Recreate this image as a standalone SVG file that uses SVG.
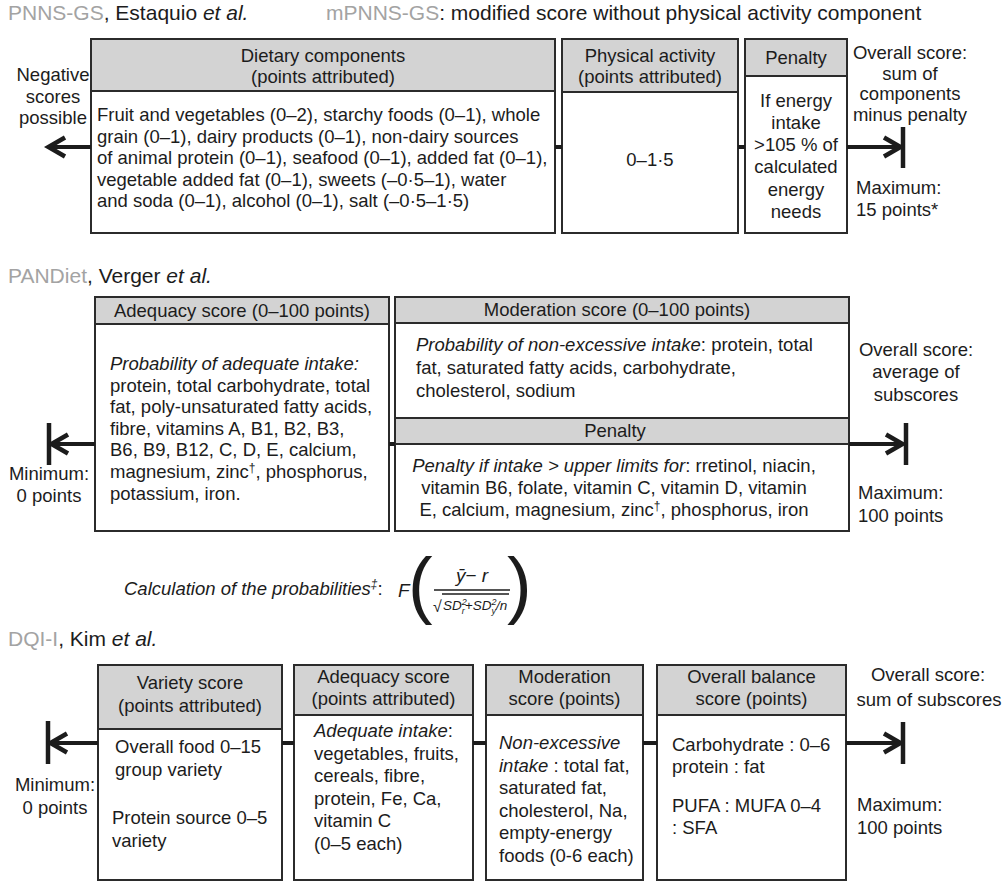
<svg xmlns="http://www.w3.org/2000/svg" width="1005" height="886" viewBox="0 0 1005 886">
<style>
.bg{fill:#ffffff}
.box{fill:#ffffff;stroke:#2b2b2b;stroke-width:2}
.hdr{fill:#d3d3d3;stroke:#2b2b2b;stroke-width:2}
.t{font-family:"Liberation Sans",Arial,Helvetica,sans-serif;font-size:18.5px;fill:#1c1c1c}
.ttl{font-size:21px}
.c{text-anchor:middle}
.i{font-style:italic}
.g{fill:#a3a3a3}
.sup{font-size:12px}
.conn{stroke:#1c1c1c;stroke-width:4;fill:none}
.head{stroke:#1c1c1c;stroke-width:4.5;fill:none;stroke-linejoin:miter;stroke-linecap:butt}
.bar{stroke:#1c1c1c;stroke-width:4.5;fill:none}
.thin{stroke:#1c1c1c;stroke-width:1.3;fill:none}
</style>
<rect class="bg" x="0" y="0" width="1005" height="886"/>

<!-- ===== Section 1: PNNS-GS ===== -->
<g id="title-pnns">
<text class="t ttl" x="8" y="20"><tspan class="g">PNNS-GS</tspan>, Estaquio <tspan class="i">et al.</tspan></text>
<text class="t ttl" x="326" y="20"><tspan class="g">mPNNS-GS</tspan>: modified score without physical activity component</text>
</g>

<g id="pnns-negative">
<text class="t c" x="53" y="81">Negative</text>
<text class="t c" x="53" y="102.5">scores</text>
<text class="t c" x="53" y="124">possible</text>
</g>

<g id="pnns-dietary">
<rect class="box" x="91" y="39" width="464" height="194"/>
<rect class="hdr" x="91" y="39" width="464" height="52"/>
<text class="t c" x="323" y="62">Dietary components</text>
<text class="t c" x="323" y="83">(points attributed)</text>
<text class="t" x="97" y="121">Fruit and vegetables (0–2), starchy foods (0–1), whole</text>
<text class="t" x="97" y="142.5">grain (0–1), dairy products (0–1), non-dairy sources</text>
<text class="t" x="97" y="164">of animal protein (0–1), seafood (0–1), added fat (0–1),</text>
<text class="t" x="97" y="185.5">vegetable added fat (0–1), sweets (–0·5–1), water</text>
<text class="t" x="97" y="207">and soda (0–1), alcohol (0–1), salt (–0·5–1·5)</text>
</g>

<g id="pnns-physical">
<rect class="box" x="562" y="39" width="176" height="194"/>
<rect class="hdr" x="562" y="39" width="176" height="53"/>
<text class="t c" x="650" y="62">Physical activity</text>
<text class="t c" x="650" y="83">(points attributed)</text>
<text class="t c" x="650" y="166">0–1·5</text>
</g>

<g id="pnns-penalty">
<rect class="box" x="745" y="39" width="102" height="194"/>
<rect class="hdr" x="745" y="39" width="102" height="37"/>
<text class="t c" x="796" y="64">Penalty</text>
<text class="t c" x="796" y="107">If energy</text>
<text class="t c" x="796" y="129">intake</text>
<text class="t c" x="796" y="151">&gt;105 % of</text>
<text class="t c" x="796" y="173">calculated</text>
<text class="t c" x="796" y="196">energy</text>
<text class="t c" x="796" y="218">needs</text>
</g>

<g id="pnns-overall">
<text class="t c" x="910" y="59">Overall score:</text>
<text class="t c" x="910" y="79.5">sum of</text>
<text class="t c" x="910" y="100">components</text>
<text class="t c" x="910" y="120.5">minus penalty</text>
<text class="t" x="856" y="194">Maximum:</text>
<text class="t" x="856" y="216">15 points*</text>
</g>

<!-- ===== Section 2: PANDiet ===== -->
<g id="title-pandiet">
<text class="t ttl" x="8" y="283"><tspan class="g">PANDiet</tspan>, Verger <tspan class="i">et al.</tspan></text>
</g>

<g id="pandiet-minimum">
<text class="t c" x="49" y="480">Minimum:</text>
<text class="t c" x="49" y="502">0 points</text>
</g>

<g id="pandiet-adequacy">
<rect class="box" x="95" y="297" width="294" height="234"/>
<rect class="hdr" x="95" y="297" width="294" height="27"/>
<text class="t c" x="242" y="317">Adequacy score (0–100 points)</text>
<text class="t i" x="110" y="370">Probability of adequate intake:</text>
<text class="t" x="110" y="391.6">protein, total carbohydrate, total</text>
<text class="t" x="110" y="413.2">fat, poly-unsaturated fatty acids,</text>
<text class="t" x="110" y="434.8">fibre, vitamins A, B1, B2, B3,</text>
<text class="t" x="110" y="456.4">B6, B9, B12, C, D, E, calcium,</text>
<text class="t" x="110" y="478">magnesium, zinc<tspan class="sup" dy="-6">†</tspan><tspan dy="6">, phosphorus,</tspan></text>
<text class="t" x="110" y="499.6">potassium, iron.</text>
</g>

<g id="pandiet-moderation">
<rect class="box" x="395" y="297" width="454" height="234"/>
<rect class="hdr" x="395" y="297" width="454" height="26"/>
<text class="t c" x="617" y="316">Moderation score (0–100 points)</text>
<text class="t" x="416" y="351"><tspan class="i">Probability of non-excessive intake</tspan>: protein, total</text>
<text class="t" x="416" y="374">fat, saturated fatty acids, carbohydrate,</text>
<text class="t" x="416" y="397">cholesterol, sodium</text>
</g>

<g id="pandiet-penalty">
<rect class="hdr" x="395" y="418" width="454" height="26"/>
<text class="t c" x="615" y="437">Penalty</text>
<text class="t c" x="614" y="472"><tspan class="i">Penalty if intake &gt; upper limits for</tspan>: rretinol, niacin,</text>
<text class="t c" x="614" y="494">vitamin B6, folate, vitamin C, vitamin D, vitamin</text>
<text class="t c" x="614" y="516">E, calcium, magnesium, zinc<tspan class="sup" dy="-6">†</tspan><tspan dy="6">, phosphorus, iron</tspan></text>
</g>

<g id="pandiet-overall">
<text class="t c" x="916" y="356">Overall score:</text>
<text class="t c" x="916" y="378">average of</text>
<text class="t c" x="916" y="401">subscores</text>
<text class="t" x="858" y="499">Maximum:</text>
<text class="t" x="858" y="522">100 points</text>
</g>

<g id="pandiet-formula">
<text class="t i" x="124" y="595">Calculation of the probabilities<tspan class="sup" dy="-7">‡</tspan><tspan dy="7" style="font-style:normal">:</tspan></text>
<text class="t i" x="398" y="597" style="font-size:19px">F</text>
<text class="t" x="408" y="610" style="font-size:74px">(</text>
<text class="t c" x="472" y="582" style="font-size:19px"><tspan class="i">ȳ</tspan>− <tspan class="i">r</tspan></text>
<line class="thin" x1="434" y1="590" x2="510" y2="590"/>
<text class="t" x="433" y="612" style="font-size:16px">√</text>
<line class="thin" x1="442" y1="594" x2="509" y2="594"/>
<text class="t i" x="443" y="610" style="font-size:13.5px">SD<tspan style="font-size:9px" dy="-5">2</tspan><tspan style="font-size:9px" dx="-5" dy="8.5">r</tspan><tspan dy="-3.5">+SD</tspan><tspan style="font-size:9px" dy="-5">2</tspan><tspan style="font-size:9px" dx="-5" dy="8.5">y</tspan><tspan dy="-3.5">/n</tspan></text>
<text class="t" x="507" y="610" style="font-size:74px">)</text>
</g>

<!-- ===== Section 3: DQI-I ===== -->
<g id="title-dqi">
<text class="t ttl" x="8" y="646"><tspan class="g">DQI-I</tspan>, Kim <tspan class="i">et al.</tspan></text>
</g>

<g id="dqi-minimum">
<text class="t c" x="55" y="791">Minimum:</text>
<text class="t c" x="55" y="814">0 points</text>
</g>

<g id="dqi-variety">
<rect class="box" x="98" y="665" width="184" height="215"/>
<rect class="hdr" x="98" y="665" width="184" height="64"/>
<text class="t c" x="190" y="689">Variety score</text>
<text class="t c" x="190" y="712">(points attributed)</text>
<text class="t" x="115" y="753">Overall food 0–15</text>
<text class="t" x="115" y="776">group variety</text>
<text class="t" x="112" y="824">Protein source 0–5</text>
<text class="t" x="112" y="847">variety</text>
</g>

<g id="dqi-adequacy">
<rect class="box" x="294" y="665" width="179" height="215"/>
<rect class="hdr" x="294" y="665" width="179" height="50"/>
<text class="t c" x="383.5" y="683">Adequacy score</text>
<text class="t c" x="383.5" y="705">(points attributed)</text>
<text class="t" x="314" y="737"><tspan class="i">Adequate intake</tspan>:</text>
<text class="t" x="314" y="759.5">vegetables, fruits,</text>
<text class="t" x="314" y="782">cereals, fibre,</text>
<text class="t" x="314" y="804.5">protein, Fe, Ca,</text>
<text class="t" x="314" y="827">vitamin C</text>
<text class="t" x="314" y="849.5">(0–5 each)</text>
</g>

<g id="dqi-moderation">
<rect class="box" x="486" y="665" width="157" height="215"/>
<rect class="hdr" x="486" y="665" width="157" height="50"/>
<text class="t c" x="564.5" y="683">Moderation</text>
<text class="t c" x="564.5" y="705">score (points)</text>
<text class="t i" x="499" y="749">Non-excessive</text>
<text class="t" x="499" y="771.5"><tspan class="i">intake</tspan> : total fat,</text>
<text class="t" x="499" y="794">saturated fat,</text>
<text class="t" x="499" y="816.5">cholesterol, Na,</text>
<text class="t" x="499" y="839">empty-energy</text>
<text class="t" x="499" y="861.5">foods (0-6 each)</text>
</g>

<g id="dqi-balance">
<rect class="box" x="657" y="665" width="189" height="215"/>
<rect class="hdr" x="657" y="665" width="189" height="50"/>
<text class="t c" x="751.5" y="683">Overall balance</text>
<text class="t c" x="751.5" y="705">score (points)</text>
<text class="t" x="672" y="751">Carbohydrate : 0–6</text>
<text class="t" x="672" y="773">protein : fat</text>
<text class="t" x="672" y="812">PUFA : MUFA 0–4</text>
<text class="t" x="672" y="834">: SFA</text>
</g>

<g id="dqi-overall">
<text class="t c" x="928" y="681">Overall score:</text>
<text class="t c" x="929" y="706">sum of subscores</text>
<text class="t" x="857" y="811">Maximum:</text>
<text class="t" x="857" y="834">100 points</text>
</g>

<!-- ===== Connectors ===== -->
<g id="connectors">
<!-- section 1 -->
<line class="conn" x1="91" y1="147" x2="51" y2="147"/>
<path class="head" d="M65,137.5 L48.5,147 L65,156.5"/>
<line class="conn" x1="555" y1="147" x2="562" y2="147"/>
<line class="conn" x1="738" y1="147" x2="745" y2="147"/>
<line class="conn" x1="847" y1="147" x2="898" y2="147"/>
<path class="head" d="M884,137.5 L900.5,147 L884,156.5"/>
<line class="bar" x1="903" y1="127" x2="903" y2="168"/>
<!-- section 2 -->
<line class="bar" x1="49" y1="423" x2="49" y2="465"/>
<path class="head" d="M68,434.5 L51.5,444 L68,453.5"/>
<line class="conn" x1="95" y1="444" x2="54" y2="444"/>
<line class="conn" x1="389" y1="444" x2="395" y2="444"/>
<line class="conn" x1="849" y1="444" x2="901" y2="444"/>
<path class="head" d="M886,434.5 L902.5,444 L886,453.5"/>
<line class="bar" x1="906" y1="423" x2="906" y2="465"/>
<!-- section 3 -->
<line class="bar" x1="48" y1="721" x2="48" y2="764"/>
<path class="head" d="M67,733.5 L50.5,743 L67,752.5"/>
<line class="conn" x1="98" y1="743" x2="53" y2="743"/>
<line class="conn" x1="282" y1="743" x2="294" y2="743"/>
<line class="conn" x1="473" y1="743" x2="486" y2="743"/>
<line class="conn" x1="643" y1="743" x2="657" y2="743"/>
<line class="conn" x1="846" y1="743" x2="898" y2="743"/>
<path class="head" d="M884,733.5 L900.5,743 L884,752.5"/>
<line class="bar" x1="903" y1="722" x2="903" y2="764"/>
</g>
</svg>
